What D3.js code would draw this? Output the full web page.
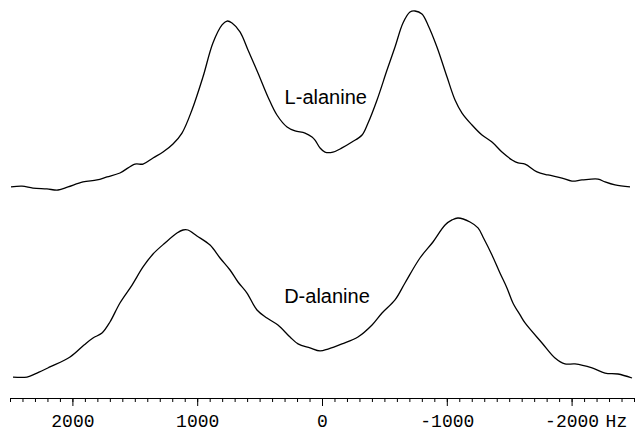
<!DOCTYPE html>
<meta charset="utf-8">
<script src="https://d3js.org/d3.v7.min.js"></script>
<style>
  body { margin: 0; background: #fff; }
</style>
<div id="my_dataviz"></div>
<script>

// spectra: frequency in Hz, intensity normalised to 100
var lHz = [2492, 2404, 2316, 2204, 2115, 2035, 1915, 1803, 1723, 1619, 1499, 1434, 1354, 1274, 1194, 1122, 1042, 954, 874, 801, 761, 721, 657, 593, 513, 433, 361, 280, 216, 136, 80, 56, 16, -24, -88, -160, -240, -321, -369, -441, -521, -585, -649, -705, -745, -801, -849, -921, -1002, -1066, -1122, -1202, -1282, -1362, -1442, -1523, -1571, -1627, -1723, -1811, -1923, -2003, -2083, -2212, -2268, -2348, -2468];
var lInt = [1.7, 2.2, 1.1, 0.6, 0, 1.7, 4.5, 5.6, 7.3, 9.5, 14.5, 14.5, 17.9, 21.2, 25.7, 31.8, 44.7, 63.1, 82.1, 92.2, 94.4, 93.3, 88.3, 78.2, 65.4, 52.0, 41.9, 35.2, 33.0, 31.8, 29.6, 27.9, 23.5, 21.2, 21.2, 23.5, 26.8, 30.7, 37.4, 50.3, 67.0, 79.9, 93.3, 99.4, 100, 98.3, 92.2, 79.9, 63.1, 50.3, 43.0, 36.3, 30.7, 26.8, 21.2, 16.8, 15.1, 14.5, 10.1, 8.4, 6.7, 5.0, 5.6, 6.1, 4.5, 2.8, 1.7];

var dHz = [2476, 2364, 2284, 2180, 2019, 1907, 1835, 1763, 1699, 1619, 1522, 1434, 1354, 1258, 1162, 1114, 1074, 1002, 897, 817, 737, 673, 601, 521, 441, 353, 256, 192, 96, 16, -48, -160, -288, -401, -481, -585, -665, -785, -889, -986, -1042, -1090, -1186, -1250, -1290, -1362, -1426, -1482, -1530, -1587, -1627, -1763, -1867, -1947, -2027, -2164, -2268, -2372, -2484];
var dInt = [0.6, 0.6, 3.1, 6.9, 13.1, 20.6, 25.0, 28.1, 35.0, 46.9, 58.1, 69.4, 77.5, 84.4, 90.6, 92.5, 92.5, 88.8, 83.1, 75.0, 67.5, 60.0, 53.1, 42.5, 37.5, 33.1, 25.6, 21.3, 18.8, 16.9, 18.1, 21.3, 25.6, 33.1, 40.6, 48.8, 59.4, 75.0, 85.0, 95.6, 98.8, 100, 97.5, 93.8, 88.1, 76.9, 65.6, 56.3, 46.9, 39.4, 34.4, 21.9, 12.5, 8.8, 8.8, 6.3, 3.1, 2.5, 0];

var majorTicks = [2000, 1000, 0, -1000, -2000];
var minorTicks = d3.range(-2500, 2501, 100);
var traceNames = ["L-alanine", "D-alanine"];

var width = 635, height = 431;

var svg = d3.select("#my_dataviz")
  .append("svg")
    .attr("width", width)
    .attr("height", height);

// frequency axis runs high -> low, NMR style
var x = d3.scaleLinear()
  .domain([2500, -2500])
  .range([10, 634]);

// each trace gets its own vertical band
var yTop = d3.scaleLinear().domain([0, 100]).range([190, 11]);
var yBot = d3.scaleLinear().domain([0, 100]).range([378, 218]);

var line = d3.line()
  .curve(d3.curveCatmullRom.alpha(0.5));

function drawTrace(hz, vals, y) {
  var pts = hz.map(function(h, i) { return [x(h), y(vals[i])]; });
  svg.append("path")
    .attr("fill", "none")
    .attr("stroke", "#000")
    .attr("stroke-width", 1.3)
    .attr("stroke-linejoin", "round")
    .attr("d", line(pts));
}

drawTrace(lHz, lInt, yTop);
drawTrace(dHz, dInt, yBot);

// trace labels
svg.append("text")
  .attr("x", x(-30))
  .attr("y", yTop(48))
  .attr("text-anchor", "middle")
  .style("font-family", "Liberation Sans, Arial, sans-serif")
  .style("font-size", "20px")
  .text(traceNames[0]);

svg.append("text")
  .attr("x", x(-40))
  .attr("y", yBot(47))
  .attr("text-anchor", "middle")
  .style("font-family", "Liberation Sans, Arial, sans-serif")
  .style("font-size", "20px")
  .text(traceNames[1]);

// axis: minor ticks every 100 Hz, major every 1000 Hz
var axisY = 398;

svg.append("g")
  .attr("transform", "translate(0," + axisY + ")")
  .call(d3.axisBottom(x)
    .tickValues(minorTicks)
    .tickSize(4)
    .tickSizeOuter(0)
    .tickFormat(""))
  .call(function(g) { g.selectAll("line").attr("stroke", "#000"); });

var major = svg.append("g")
  .attr("transform", "translate(0," + axisY + ")")
  .call(d3.axisBottom(x)
    .tickValues(majorTicks)
    .tickSize(8)
    .tickSizeOuter(0)
    .tickFormat(function(d) { return String(d); }));

major.select(".domain").remove();
major.selectAll("line").attr("stroke", "#000");
major.selectAll("text")
  .attr("y", 29)
  .attr("dy", 0)
  .attr("fill", "#000")
  .style("font-family", "Liberation Mono, Courier New, monospace")
  .style("font-size", "18px");

svg.append("text")
  .attr("x", x(-2000) + 34)
  .attr("y", axisY + 29)
  .style("font-family", "Liberation Mono, Courier New, monospace")
  .style("font-size", "18px")
  .text("Hz");

</script>
